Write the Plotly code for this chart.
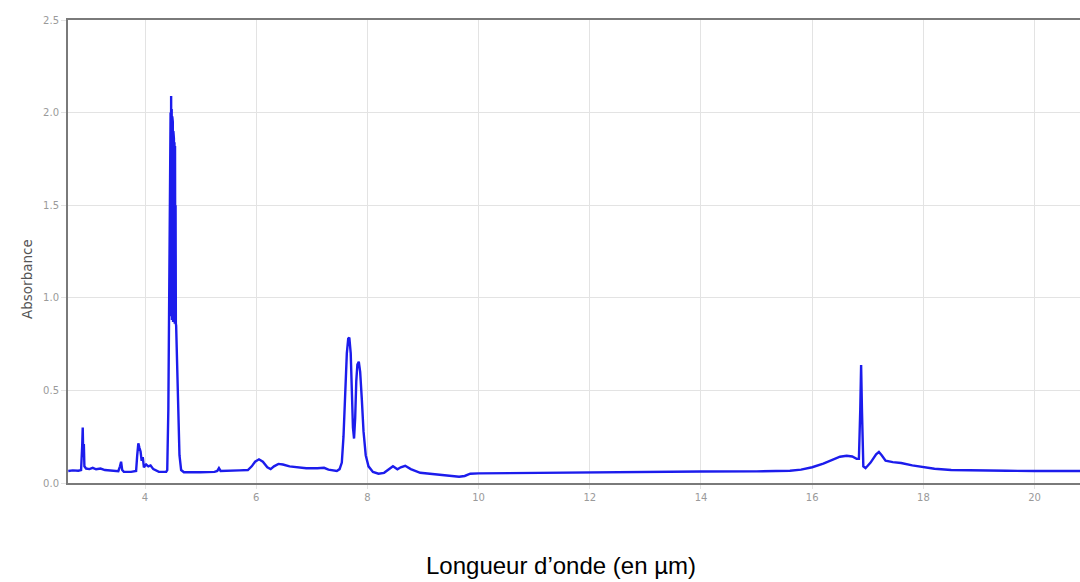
import plotly.graph_objects as go

wavelength = [
    2.62, 2.70, 2.80, 2.85, 2.87, 2.88, 2.89, 2.90, 2.91, 2.94, 3.00, 3.06, 3.12, 3.20, 3.28,
    3.40, 3.52, 3.55, 3.57, 3.59, 3.62, 3.75, 3.84, 3.86, 3.88, 3.90, 3.92, 3.94, 3.96, 3.98,
    4.02, 4.06, 4.10, 4.15, 4.25, 4.38, 4.40, 4.42, 4.44, 4.45, 4.455, 4.46, 4.465, 4.47, 4.475,
    4.48, 4.485, 4.49, 4.495, 4.50, 4.505, 4.51, 4.515, 4.52, 4.525, 4.53, 4.535, 4.54, 4.545, 4.55,
    4.555, 4.56, 4.59, 4.62, 4.65, 4.70, 5.00, 5.25, 5.30, 5.33, 5.36, 5.50, 5.70, 5.85, 5.92,
    5.98, 6.05, 6.12, 6.20, 6.26, 6.32, 6.40, 6.48, 6.60, 6.75, 6.90, 7.10, 7.22, 7.30, 7.40,
    7.45, 7.50, 7.54, 7.57, 7.60, 7.63, 7.655, 7.675, 7.70, 7.72, 7.74, 7.76, 7.78, 7.80, 7.82,
    7.845, 7.87, 7.90, 7.93, 7.97, 8.02, 8.10, 8.20, 8.30, 8.40, 8.46, 8.54, 8.60, 8.68, 8.78,
    8.95, 9.20, 9.50, 9.65, 9.75, 9.85, 10.0, 11.0, 12.0, 13.0, 14.0, 15.0, 15.6, 15.8, 16.0,
    16.2, 16.35, 16.5, 16.62, 16.72, 16.80, 16.84, 16.865, 16.88, 16.895, 16.92, 16.96, 17.05, 17.15, 17.2,
    17.25, 17.32, 17.45, 17.6, 17.8, 18.0, 18.2, 18.5, 19.0, 19.5, 20.0, 20.85,
]
absorbance = [
    0.065, 0.068, 0.066, 0.07, 0.2, 0.30, 0.14, 0.21, 0.09, 0.078, 0.075, 0.082, 0.074, 0.078, 0.07,
    0.066, 0.064, 0.09, 0.115, 0.07, 0.06, 0.06, 0.065, 0.15, 0.214, 0.19, 0.17, 0.12, 0.14, 0.085,
    0.1, 0.09, 0.095, 0.075, 0.06, 0.06, 0.07, 0.4, 1.2, 1.7, 1.6, 2.0, 0.95, 2.09, 0.9,
    2.02, 0.88, 1.98, 0.88, 1.95, 0.87, 1.9, 0.87, 1.86, 0.87, 1.84, 0.86, 1.82, 0.86, 1.5,
    0.86, 0.85, 0.5, 0.15, 0.07, 0.058, 0.058, 0.06, 0.065, 0.08, 0.065, 0.065, 0.068, 0.07, 0.09,
    0.115, 0.128, 0.115, 0.085, 0.075, 0.09, 0.103, 0.1, 0.09, 0.084, 0.08, 0.08, 0.082, 0.072, 0.065,
    0.065, 0.075, 0.11, 0.25, 0.5, 0.7, 0.78, 0.785, 0.7, 0.5, 0.3, 0.24, 0.35, 0.55, 0.64,
    0.655, 0.6, 0.45, 0.28, 0.15, 0.09, 0.06, 0.05, 0.055, 0.08, 0.09, 0.074, 0.085, 0.093, 0.075,
    0.055, 0.048, 0.04, 0.034, 0.038, 0.05, 0.052, 0.055, 0.06, 0.06, 0.062, 0.063, 0.066, 0.072, 0.085,
    0.105, 0.125, 0.142, 0.147, 0.143, 0.13, 0.13, 0.4, 0.637, 0.4, 0.09, 0.08, 0.11, 0.155, 0.168,
    0.15, 0.12, 0.113, 0.108, 0.095, 0.085, 0.077, 0.07, 0.066, 0.066, 0.065, 0.065,
]
x_ticks = [4, 6, 8, 10, 12, 14, 16, 18, 20]
y_ticks = [0.0, 0.5, 1.0, 1.5, 2.0, 2.5]
y_tick_text = ["0.0", "0.5", "1.0", "1.5", "2.0", "2.5"]

fig = go.Figure()
fig.add_trace(go.Scatter(
    x=wavelength, y=absorbance, mode="lines",
    line=dict(color="rgb(28,28,236)", width=2.4),
    showlegend=False, hoverinfo="skip",
))

W, H = 1080, 582
ml, mt, mb = 68, 20, 99
fig.update_layout(
    width=W, height=H,
    margin=dict(l=ml, r=0, t=mt, b=mb),
    paper_bgcolor="white", plot_bgcolor="white",
    xaxis=dict(
        range=[2.615, 20.817], tickvals=x_ticks,
        showgrid=True, gridcolor="#e3e3e3", gridwidth=1,
        showline=True, linecolor="#7a7a7a", linewidth=2, mirror=True,
        ticks="outside", ticklen=4, tickcolor="#e3e3e3",
        tickfont=dict(family="DejaVu Sans", size=10, color="#9a9a9a"),
        zeroline=False,
    ),
    yaxis=dict(
        range=[0, 2.5], tickvals=y_ticks, ticktext=y_tick_text,
        showgrid=True, gridcolor="#e3e3e3", gridwidth=1,
        showline=True, linecolor="#7a7a7a", linewidth=2, mirror=False,
        ticks="outside", ticklen=5, tickcolor="#e3e3e3",
        tickfont=dict(family="DejaVu Sans", size=10, color="#9a9a9a"),
        zeroline=False,
    ),
)

pw = W - ml
ph = H - mt - mb
fig.add_annotation(
    text="Absorbance", textangle=-90, showarrow=False,
    xref="paper", yref="paper",
    x=(27 - ml) / pw, y=(H - mb - 279) / ph,
    xanchor="center", yanchor="middle",
    font=dict(family="DejaVu Sans", size=13.5, color="#555555"),
)
fig.add_annotation(
    text="Longueur d’onde (en µm)", showarrow=False,
    xref="paper", yref="paper",
    x=(561 - ml) / pw, y=(H - mb - 565) / ph,
    xanchor="center", yanchor="middle",
    font=dict(family="Liberation Sans", size=24, color="black"),
)

fig.write_html(
    "out.html",
    config={"displayModeBar": False},
    post_script="document.body.style.margin='0';document.body.style.overflow='hidden';",
)
